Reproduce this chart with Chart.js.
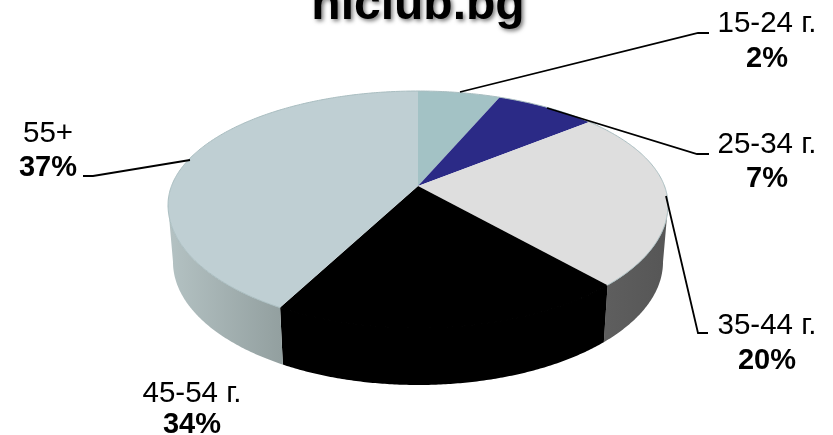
<!DOCTYPE html>
<html>
<head>
<meta charset="utf-8">
<style>
  html,body{margin:0;padding:0;background:#fff;}
  canvas{display:block;}
</style>
<script src="https://cdn.jsdelivr.net/npm/chart.js@4"></script>
</head>
<body>
<canvas id="chart" width="833" height="435"></canvas>
<script>
const titleText = 'niclub.bg';
const ageGroups = ['15-24 г.', '25-34 г.', '35-44 г.', '45-54 г.', '55+'];
// what the labels print
const printedPercents = [2, 7, 20, 34, 37];
// the slices are not drawn to the printed numbers, these are read off the shapes
const sliceShares = [5.3, 6.7, 24.3, 23, 40.7];

const topColors = ['#a3c2c5', '#2b2a86', '#dedede', '#000000', '#bfcfd3'];
const sideColors = [null, null, ['#5e5e5e', '#565656'], ['#000000', '#000000'], ['#b4c2c3', '#93a0a0']];

// 3d look of the pie: top face and floor ellipses, slices meet at the apex
const TOP = { x: 418, y: 205, rx: 250, back: 114, front: 123 };
const FLOOR = { x: 418, y: 262, rx: 245, back: 114, front: 123 };
const APEX = { x: 418, y: 186 };

// label text anchors
const labelPos = [[767, 32, 67], [767, 153, 187], [767, 334, 369], [192, 402, 433], [48, 142, 176]];
const leaders = [
  [[460, 92], [698, 33], [709, 33]],
  [[547, 108], [697, 154], [709, 154]],
  [[666, 196], [698, 333], [708, 333]],
  [[190, 160], [93, 176], [83, 176]]
];

function rimPoint(e, t){
  const ry = Math.cos(t) > 0 ? e.back : e.front;
  return [e.x + e.rx * Math.sin(t), e.y - ry * Math.cos(t)];
}

function traceRim(ctx, e, t1, t2){
  const n = Math.max(2, Math.ceil(Math.abs(t2 - t1) / 0.01));
  for(let i = 0; i <= n; i++){
    const p = rimPoint(e, t1 + (t2 - t1) * i / n);
    ctx.lineTo(p[0], p[1]);
  }
}

const pie3d = {
  id: 'pie3d',
  beforeDatasetsDraw(chart){
    const ctx = chart.ctx;
    const arcs = chart.getDatasetMeta(0).data;
    const ht = Math.PI / 2;
    ctx.save();
    // side walls first, only the front half shows
    arcs.forEach((a, i) => {
      if(!sideColors[i]) return;
      const t1 = Math.max(a.startAngle + ht, ht);
      const t2 = Math.min(a.endAngle + ht, 3 * ht);
      if(t2 <= t1) return;
      const p1 = rimPoint(TOP, t1), p2 = rimPoint(TOP, t2);
      const g = ctx.createLinearGradient(Math.min(p1[0], p2[0]), 0, Math.max(p1[0], p2[0]), 0);
      g.addColorStop(0, sideColors[i][0]);
      g.addColorStop(1, sideColors[i][1]);
      ctx.beginPath();
      traceRim(ctx, TOP, t1, t2);
      traceRim(ctx, FLOOR, t2, t1);
      ctx.closePath();
      ctx.fillStyle = g;
      ctx.fill();
    });
    // top face
    arcs.forEach((a, i) => {
      ctx.beginPath();
      ctx.moveTo(APEX.x, APEX.y);
      traceRim(ctx, TOP, a.startAngle + ht, a.endAngle + ht);
      ctx.closePath();
      ctx.fillStyle = topColors[i];
      ctx.fill();
      // black slice runs into its wall with no seam
      if(i === 3){
        ctx.strokeStyle = '#000';
        ctx.lineWidth = 1.5;
        ctx.beginPath();
        traceRim(ctx, TOP, a.startAngle + ht + 0.01, a.endAngle + ht - 0.01);
        ctx.stroke();
      }
    });
    // thin rim line, black slice has none
    ctx.lineWidth = 1;
    ctx.strokeStyle = '#a9bdc0';
    arcs.forEach((a, i) => {
      if(i === 3) return;
      ctx.beginPath();
      traceRim(ctx, TOP, a.startAngle + ht, a.endAngle + ht);
      ctx.stroke();
    });
    ctx.restore();
    return false;
  },
  afterDraw(chart){
    const ctx = chart.ctx;
    ctx.save();
    // leader lines
    ctx.strokeStyle = '#000';
    ctx.lineWidth = 1.8;
    leaders.forEach(l => {
      ctx.beginPath();
      l.forEach((p, i) => i ? ctx.lineTo(p[0], p[1]) : ctx.moveTo(p[0], p[1]));
      ctx.stroke();
    });
    // labels
    ctx.fillStyle = '#000';
    ctx.textAlign = 'center';
    ctx.textBaseline = 'alphabetic';
    ageGroups.forEach((name, i) => {
      ctx.font = '29.5px "Liberation Sans", Arial, sans-serif';
      ctx.fillText(name, labelPos[i][0], labelPos[i][1]);
      ctx.font = 'bold 29px "Liberation Sans", Arial, sans-serif';
      ctx.fillText(printedPercents[i] + '%', labelPos[i][0], labelPos[i][2]);
    });
    // title runs off the top edge in the original too
    ctx.font = 'bold 48px "Liberation Sans", Arial, sans-serif';
    ctx.shadowColor = 'rgba(0,0,0,0.55)';
    ctx.shadowBlur = 4;
    ctx.shadowOffsetX = 2;
    ctx.shadowOffsetY = 2;
    ctx.fillText(titleText, 418, 19);
    ctx.restore();
  }
};

new Chart(document.getElementById('chart'), {
  type: 'pie',
  data: {
    labels: ageGroups,
    datasets: [{ data: sliceShares, backgroundColor: topColors, borderWidth: 0 }]
  },
  options: {
    responsive: false,
    animation: false,
    plugins: { legend: { display: false }, tooltip: { enabled: false } }
  },
  plugins: [pie3d]
});
</script>
</body>
</html>
